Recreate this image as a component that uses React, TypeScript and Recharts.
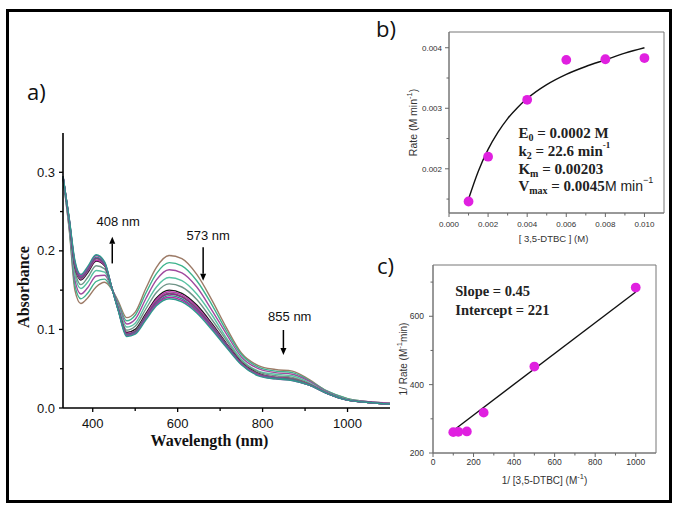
import React from 'react';
import {
  LineChart,
  Line,
  XAxis,
  YAxis,
  ZAxis,
  ReferenceLine,
  ReferenceDot,
  ReferenceArea,
  ComposedChart,
  Scatter,
  Label,
} from 'recharts';

// ---------------- Panel a: UV-Vis spectra ----------------
const wavelengths = [330, 345, 358, 372, 388, 408, 428, 445, 460, 480, 500, 525, 550, 580, 610, 645, 680, 715, 750, 790, 830, 870, 910, 950, 1000, 1050, 1100];
const absorbance01 = [0.292, 0.225, 0.150, 0.133, 0.140, 0.154, 0.160, 0.151, 0.136, 0.115, 0.122, 0.152, 0.179, 0.194, 0.190, 0.170, 0.138, 0.102, 0.070, 0.054, 0.049, 0.047, 0.036, 0.022, 0.012, 0.008, 0.006];
const absorbance02 = [0.292, 0.227, 0.156, 0.139, 0.146, 0.161, 0.164, 0.151, 0.134, 0.111, 0.118, 0.146, 0.171, 0.185, 0.181, 0.162, 0.132, 0.098, 0.068, 0.052, 0.047, 0.045, 0.035, 0.022, 0.012, 0.008, 0.006];
const absorbance03 = [0.293, 0.230, 0.163, 0.145, 0.153, 0.168, 0.169, 0.152, 0.132, 0.107, 0.113, 0.139, 0.163, 0.176, 0.172, 0.154, 0.125, 0.094, 0.065, 0.050, 0.045, 0.043, 0.034, 0.021, 0.011, 0.008, 0.006];
const absorbance04 = [0.294, 0.233, 0.169, 0.152, 0.160, 0.175, 0.173, 0.152, 0.130, 0.103, 0.108, 0.132, 0.154, 0.166, 0.162, 0.145, 0.119, 0.089, 0.062, 0.047, 0.043, 0.041, 0.032, 0.020, 0.011, 0.007, 0.005];
const absorbance05 = [0.294, 0.235, 0.175, 0.157, 0.166, 0.181, 0.177, 0.152, 0.128, 0.099, 0.104, 0.126, 0.147, 0.158, 0.154, 0.138, 0.113, 0.086, 0.060, 0.046, 0.041, 0.039, 0.031, 0.020, 0.011, 0.007, 0.005];
const absorbance06 = [0.294, 0.237, 0.180, 0.163, 0.172, 0.187, 0.181, 0.153, 0.126, 0.096, 0.100, 0.120, 0.140, 0.150, 0.146, 0.131, 0.108, 0.082, 0.058, 0.044, 0.039, 0.037, 0.030, 0.019, 0.010, 0.007, 0.005];
const absorbance07 = [0.295, 0.238, 0.182, 0.164, 0.174, 0.188, 0.182, 0.153, 0.126, 0.095, 0.098, 0.118, 0.138, 0.148, 0.144, 0.129, 0.106, 0.081, 0.057, 0.043, 0.039, 0.037, 0.030, 0.019, 0.010, 0.007, 0.005];
const absorbance08 = [0.295, 0.238, 0.183, 0.165, 0.175, 0.190, 0.183, 0.153, 0.126, 0.094, 0.098, 0.117, 0.136, 0.146, 0.142, 0.127, 0.105, 0.080, 0.057, 0.043, 0.038, 0.037, 0.030, 0.019, 0.010, 0.007, 0.005];
const absorbance09 = [0.295, 0.238, 0.184, 0.166, 0.176, 0.191, 0.183, 0.153, 0.125, 0.094, 0.097, 0.116, 0.135, 0.145, 0.141, 0.126, 0.104, 0.080, 0.057, 0.042, 0.038, 0.036, 0.029, 0.019, 0.010, 0.007, 0.005];
const absorbance10 = [0.295, 0.239, 0.185, 0.167, 0.177, 0.192, 0.184, 0.153, 0.125, 0.093, 0.096, 0.115, 0.133, 0.143, 0.139, 0.124, 0.103, 0.079, 0.056, 0.042, 0.038, 0.036, 0.029, 0.019, 0.010, 0.007, 0.005];
const absorbance11 = [0.295, 0.239, 0.186, 0.168, 0.178, 0.194, 0.185, 0.153, 0.125, 0.092, 0.095, 0.114, 0.132, 0.141, 0.137, 0.123, 0.102, 0.078, 0.056, 0.042, 0.037, 0.035, 0.029, 0.019, 0.010, 0.007, 0.005];
const absorbance12 = [0.295, 0.240, 0.188, 0.170, 0.180, 0.195, 0.186, 0.153, 0.124, 0.091, 0.094, 0.112, 0.130, 0.139, 0.135, 0.121, 0.100, 0.077, 0.055, 0.041, 0.037, 0.035, 0.029, 0.019, 0.010, 0.007, 0.005];
const spectra = [absorbance01, absorbance02, absorbance03, absorbance04, absorbance05, absorbance06, absorbance07, absorbance08, absorbance09, absorbance10, absorbance11, absorbance12];
const spectraColors = ['#9c7a66', '#3db38c', '#a04a9e', '#57c2a2', '#6f9488', '#1a1a1a', '#c030b0', '#707070', '#8a2a8a', '#2f8f84', '#b02aa8', '#2e9a8c'];

const aXMajor = [400, 600, 800, 1000];
const aXMinor = [500, 700, 900];
const aYMajor = [0, 0.1, 0.2, 0.3];
const aYMinor = [0.05, 0.15, 0.25];

const bandLabels = ['408 nm', '573 nm', '855 nm'];
const bandLabelPos = [
  { x: 460, y: 0.237 },
  { x: 672, y: 0.219 },
  { x: 864, y: 0.117 },
];
const bandArrows = [
  { x: 446, from: 0.184, to: 0.218 },
  { x: 660, from: 0.2045, to: 0.162 },
  { x: 849, from: 0.0993, to: 0.0675 },
];

// ---------------- Panel b: Michaelis–Menten ----------------
const bSubstrate = [0.001, 0.002, 0.004, 0.006, 0.008, 0.01];
const bRate = [0.00146, 0.0022, 0.00314, 0.0038, 0.00381, 0.00383];
const bFitSubstrate = [0.001, 0.0015, 0.002, 0.0025, 0.003, 0.0035, 0.004, 0.005, 0.006, 0.007, 0.008, 0.009, 0.01];
const bFitRate = [0.0015, 0.00196, 0.00232, 0.0026, 0.00283, 0.00301, 0.00316, 0.00339, 0.00356, 0.00369, 0.0038, 0.00391, 0.004];
const bXMajor = [0, 0.002, 0.004, 0.006, 0.008, 0.01];
const bXMinor = [0.001, 0.003, 0.005, 0.007, 0.009];
const bYMajor = [0.002, 0.003, 0.004];
const bYMinor = [0.0015, 0.0025, 0.0035];
const bXDomain = [0, 0.011];
const bYDomain = [0.00127, 0.00426];
const bTextX = 0.00355;
const bTextY = [0.00259, 0.00229, 0.002, 0.00171];

// ---------------- Panel c: Lineweaver–Burk ----------------
const cInvSubstrate = [100, 125, 167, 250, 500, 1000];
const cInvRate = [261, 262, 263, 318, 453, 684];
const cFitInvSubstrate = [100, 1000];
const cFitInvRate = [266, 671];
const cXMajor = [0, 200, 400, 600, 800, 1000];
const cXMinor = [100, 300, 500, 700, 900];
const cYMajor = [200, 400, 600];
const cYMinor = [300, 500, 700];
const cXDomain = [0, 1100];
const cYDomain = [200, 750];
const cTextX = 110;
const cTextY = [675, 619];

// ---------------- helpers ----------------
const SANS = '"Liberation Sans", Arial, Helvetica, sans-serif';
const SERIF = '"Liberation Serif", "Times New Roman", Times, serif';

const spectraTable = wavelengths.map((w, i) => {
  const row: Record<string, number> = { w };
  spectra.forEach((s, k) => {
    row['s' + k] = s[i];
  });
  return row;
});
const bPoints = bSubstrate.map((s, i) => ({ s, rate: bRate[i] }));
const bFit = bFitSubstrate.map((s, i) => ({ s, rate: bFitRate[i] }));
const cPoints = cInvSubstrate.map((inv, i) => ({ inv, invRate: cInvRate[i] }));
const cFit = cFitInvSubstrate.map((inv, i) => ({ inv, invRate: cFitInvRate[i] }));

type TickStyle = {
  majors: number[];
  major: number;
  minor: number;
  gap: number;
  fontSize: number;
  fill: string;
  stroke: string;
  strokeWidth: number;
  fmt: (v: number) => string;
};

const isIn = (list: number[], v: number) => list.some((m) => Math.abs(m - v) < 1e-9);

const bottomTick = (st: TickStyle) => (props: any) => {
  const { x, y, payload } = props;
  const v = payload.value as number;
  const major = isIn(st.majors, v);
  return (
    <g>
      <line x1={x} y1={y} x2={x} y2={y + (major ? st.major : st.minor)} stroke={st.stroke} strokeWidth={st.strokeWidth} />
      {major && (
        <text x={x} y={y + st.gap} dy="0.71em" textAnchor="middle" fontSize={st.fontSize} fontFamily={SANS} fill={st.fill}>
          {st.fmt(v)}
        </text>
      )}
    </g>
  );
};

const leftTick = (st: TickStyle) => (props: any) => {
  const { x, y, payload } = props;
  const v = payload.value as number;
  const major = isIn(st.majors, v);
  return (
    <g>
      <line x1={x} y1={y} x2={x - (major ? st.major : st.minor)} y2={y} stroke={st.stroke} strokeWidth={st.strokeWidth} />
      {major && (
        <text x={x - st.gap} y={y} dy="0.35em" textAnchor="end" fontSize={st.fontSize} fontFamily={SANS} fill={st.fill}>
          {st.fmt(v)}
        </text>
      )}
    </g>
  );
};

type TitleOpts = { dx: number; dy: number; angle?: number; fontSize: number; fontFamily: string; fontWeight?: number | string; fill: string };
const titleRenderer = (content: React.ReactNode, o: TitleOpts) => (props: any) => {
  const vb = props.viewBox || {};
  const cx = (vb.x ?? 0) + (vb.width ?? 0) / 2 + o.dx;
  const cy = (vb.y ?? 0) + (vb.height ?? 0) / 2 + o.dy;
  return (
    <text
      x={cx}
      y={cy}
      textAnchor="middle"
      dominantBaseline="central"
      transform={o.angle ? `rotate(${o.angle} ${cx} ${cy})` : undefined}
      fontSize={o.fontSize}
      fontFamily={o.fontFamily}
      fontWeight={o.fontWeight ?? 'normal'}
      fill={o.fill}
    >
      {content}
    </text>
  );
};

const arrowShape = (props: any) => {
  const { x1, y1, x2, y2 } = props;
  const ang = Math.atan2(y2 - y1, x2 - x1);
  const L = 7;
  const W = 3;
  const bx = x2 - L * Math.cos(ang);
  const by = y2 - L * Math.sin(ang);
  const px = -Math.sin(ang) * W;
  const py = Math.cos(ang) * W;
  return (
    <g>
      <line x1={x1} y1={y1} x2={bx} y2={by} stroke="#000" strokeWidth={1.5} />
      <polygon points={`${x2},${y2} ${bx + px},${by + py} ${bx - px},${by - py}`} fill="#000" />
    </g>
  );
};

const textShape = (content: React.ReactNode, o: { anchor: 'start' | 'middle'; fontSize: number; fontFamily: string; fontWeight?: number | string; fill?: string }) => (props: any) => (
  <text
    x={props.cx}
    y={props.cy}
    textAnchor={o.anchor}
    dominantBaseline="central"
    fontSize={o.fontSize}
    fontFamily={o.fontFamily}
    fontWeight={o.fontWeight ?? 'normal'}
    fill={o.fill ?? '#000'}
  >
    {content}
  </text>
);

const bTexts: React.ReactNode[] = [
  <>
    <tspan>E</tspan>
    <tspan dy={4} fontSize={10}>0</tspan>
    <tspan dy={-4}> = 0.0002 M</tspan>
  </>,
  <>
    <tspan>k</tspan>
    <tspan dy={4} fontSize={10}>2</tspan>
    <tspan dy={-4}> = 22.6 min</tspan>
    <tspan dy={-6} fontSize={9}>-1</tspan>
  </>,
  <>
    <tspan>K</tspan>
    <tspan dy={4} fontSize={10}>m</tspan>
    <tspan dy={-4}> = 0.00203</tspan>
  </>,
  <>
    <tspan>V</tspan>
    <tspan dy={4} fontSize={10}>max</tspan>
    <tspan dy={-4}> = 0.0045</tspan>
    <tspan fontFamily={SANS} fontWeight="normal" fontSize={14}>M min</tspan>
    <tspan dy={-6} fontSize={9} fontFamily={SANS} fontWeight="normal">−1</tspan>
  </>,
];
const cTexts = ['Slope = 0.45', 'Intercept = 221'];

const panelLabelStyle: React.CSSProperties = {
  position: 'absolute',
  fontFamily: '"Open Sans", "Noto Sans", sans-serif',
  fontSize: 22,
  lineHeight: '22px',
  color: '#111',
};

export default function App() {
  const aTickStyleX: TickStyle = { majors: aXMajor, major: 4, minor: 3, gap: 10.5, fontSize: 13, fill: '#111', stroke: '#000', strokeWidth: 1.3, fmt: (v) => String(v) };
  const aTickStyleY: TickStyle = { majors: aYMajor, major: 4, minor: 3, gap: 8, fontSize: 13, fill: '#111', stroke: '#000', strokeWidth: 1.3, fmt: (v) => v.toFixed(1) };
  const bTickStyleX: TickStyle = { majors: bXMajor, major: 4, minor: 2.5, gap: 8, fontSize: 8, fill: '#333', stroke: '#666', strokeWidth: 1, fmt: (v) => v.toFixed(3) };
  const bTickStyleY: TickStyle = { majors: bYMajor, major: 4, minor: 2.5, gap: 7, fontSize: 8, fill: '#333', stroke: '#666', strokeWidth: 1, fmt: (v) => v.toFixed(3) };
  const cTickStyleX: TickStyle = { majors: cXMajor, major: 4, minor: 2.5, gap: 6.4, fontSize: 8.5, fill: '#333', stroke: '#666', strokeWidth: 1, fmt: (v) => String(v) };
  const cTickStyleY: TickStyle = { majors: cYMajor, major: 4, minor: 2.5, gap: 9, fontSize: 8.5, fill: '#333', stroke: '#666', strokeWidth: 1, fmt: (v) => String(v) };

  return (
    <div style={{ position: 'absolute', left: 0, top: 0, width: 681, height: 512, background: '#fff', overflow: 'hidden' }}>
      <div style={{ position: 'absolute', left: 6, top: 9, width: 666, height: 494, border: '3px solid #000', boxSizing: 'border-box' }} />

      <div style={{ ...panelLabelStyle, left: 27, top: 80 }}>a)</div>
      <div style={{ ...panelLabelStyle, left: 376, top: 17 }}>b)</div>
      <div style={{ ...panelLabelStyle, left: 377, top: 254 }}>c)</div>

      {/* Panel a */}
      <div style={{ position: 'absolute', left: 0, top: 100 }}>
        <LineChart width={400} height={360} data={spectraTable} margin={{ top: 33, right: 10, left: 0, bottom: 0 }}>
          <XAxis
            dataKey="w"
            type="number"
            domain={[330, 1100]}
            ticks={[...aXMajor, ...aXMinor]}
            interval={0}
            tickSize={0}
            tickMargin={0}
            tickLine={false}
            axisLine={{ stroke: '#000', strokeWidth: 1.6 }}
            tick={bottomTick(aTickStyleX)}
            height={52}
          >
            <Label content={titleRenderer('Wavelength (nm)', { dx: -17, dy: 6, fontSize: 16, fontFamily: SERIF, fontWeight: 'bold', fill: '#111' })} />
          </XAxis>
          <YAxis
            type="number"
            domain={[0, 0.35]}
            ticks={[...aYMajor, ...aYMinor]}
            interval={0}
            tickSize={0}
            tickMargin={0}
            tickLine={false}
            axisLine={{ stroke: '#000', strokeWidth: 1.6 }}
            tick={leftTick(aTickStyleY)}
            width={63}
          >
            <Label content={titleRenderer('Absorbance', { dx: -8.5, dy: 16.5, angle: -90, fontSize: 16, fontFamily: SERIF, fontWeight: 'bold', fill: '#111' })} />
          </YAxis>
          {spectra.map((_, k) => (
            <Line
              key={k}
              type="monotone"
              dataKey={'s' + k}
              stroke={spectraColors[k]}
              strokeWidth={1.4}
              dot={false}
              isAnimationActive={false}
            />
          ))}
          {bandArrows.map((a, i) => (
            <ReferenceLine
              key={'ar' + i}
              segment={[
                { x: a.x, y: a.from },
                { x: a.x, y: a.to },
              ]}
              shape={arrowShape}
            />
          ))}
          {bandLabels.map((t, i) => (
            <ReferenceDot
              key={'bl' + i}
              x={bandLabelPos[i].x}
              y={bandLabelPos[i].y}
              r={1}
              shape={textShape(t, { anchor: 'middle', fontSize: 13, fontFamily: SANS, fill: '#111' })}
            />
          ))}
        </LineChart>
      </div>

      {/* Panel b */}
      <div style={{ position: 'absolute', left: 370, top: 0 }}>
        <ComposedChart width={311} height={250} margin={{ top: 32, right: 17, left: 0, bottom: 0 }}>
          <XAxis
            dataKey="s"
            type="number"
            domain={bXDomain}
            ticks={[...bXMajor, ...bXMinor]}
            interval={0}
            tickSize={0}
            tickMargin={0}
            tickLine={false}
            axisLine={{ stroke: '#777', strokeWidth: 1 }}
            tick={bottomTick(bTickStyleX)}
            height={37}
            allowDataOverflow
          >
            <Label content={titleRenderer('[ 3,5-DTBC ] (M)', { dx: -3, dy: 7, fontSize: 9.5, fontFamily: SANS, fill: '#333' })} />
          </XAxis>
          <YAxis
            dataKey="rate"
            type="number"
            domain={bYDomain}
            ticks={[...bYMajor, ...bYMinor]}
            interval={0}
            tickSize={0}
            tickMargin={0}
            tickLine={false}
            axisLine={{ stroke: '#777', strokeWidth: 1 }}
            tick={leftTick(bTickStyleY)}
            width={79}
            allowDataOverflow
          >
            <Label
              content={titleRenderer(
                <>
                  <tspan>Rate (M min</tspan>
                  <tspan dy={-4} fontSize={7.5}>-1</tspan>
                  <tspan dy={4}>)</tspan>
                </>,
                { dx: 3.5, dy: 0, angle: -90, fontSize: 10.5, fontFamily: SANS, fill: '#333' }
              )}
            />
          </YAxis>
          <ZAxis type="number" range={[75, 75]} />
          <ReferenceArea x1={bXDomain[0]} x2={bXDomain[1]} y1={bYDomain[0]} y2={bYDomain[1]} fill="none" stroke="#777" strokeWidth={1} ifOverflow="visible" />
          <Line data={bFit} dataKey="rate" type="monotone" stroke="#111" strokeWidth={1.4} dot={false} isAnimationActive={false} />
          <Scatter data={bPoints} dataKey="rate" fill="#e020e0" isAnimationActive={false} />
          {bTexts.map((t, i) => (
            <ReferenceDot
              key={'bt' + i}
              x={bTextX}
              y={bTextY[i]}
              r={1}
              shape={textShape(t, { anchor: 'start', fontSize: 15, fontFamily: SERIF, fontWeight: 'bold', fill: '#222' })}
            />
          ))}
        </ComposedChart>
      </div>

      {/* Panel c */}
      <div style={{ position: 'absolute', left: 370, top: 250 }}>
        <ComposedChart width={311} height={262} margin={{ top: 15, right: 25, left: 0, bottom: 0 }}>
          <XAxis
            dataKey="inv"
            type="number"
            domain={cXDomain}
            ticks={[...cXMajor, ...cXMinor]}
            interval={0}
            tickSize={0}
            tickMargin={0}
            tickLine={false}
            axisLine={{ stroke: '#777', strokeWidth: 1 }}
            tick={bottomTick(cTickStyleX)}
            height={59}
            allowDataOverflow
          >
            <Label
              content={titleRenderer(
                <>
                  <tspan>1/ [3,5-DTBC] (M</tspan>
                  <tspan dy={-4} fontSize={7.5}>-1</tspan>
                  <tspan dy={4}>)</tspan>
                </>,
                { dx: 0, dy: -2.5, fontSize: 10, fontFamily: SANS, fill: '#333' }
              )}
            />
          </XAxis>
          <YAxis
            dataKey="invRate"
            type="number"
            domain={cYDomain}
            ticks={[...cYMajor, ...cYMinor]}
            interval={0}
            tickSize={0}
            tickMargin={0}
            tickLine={false}
            axisLine={{ stroke: '#777', strokeWidth: 1 }}
            tick={leftTick(cTickStyleY)}
            width={63}
            allowDataOverflow
          >
            <Label
              content={titleRenderer(
                <>
                  <tspan>1/ Rate (M</tspan>
                  <tspan dy={-4} fontSize={7.5}>-1</tspan>
                  <tspan dy={4}>min)</tspan>
                </>,
                { dx: 1.5, dy: 0, angle: -90, fontSize: 10, fontFamily: SANS, fill: '#333' }
              )}
            />
          </YAxis>
          <ZAxis type="number" range={[75, 75]} />
          <ReferenceArea x1={cXDomain[0]} x2={cXDomain[1]} y1={cYDomain[0]} y2={cYDomain[1]} fill="none" stroke="#777" strokeWidth={1} ifOverflow="visible" />
          <Line data={cFit} dataKey="invRate" type="linear" stroke="#111" strokeWidth={1.4} dot={false} isAnimationActive={false} />
          <Scatter data={cPoints} dataKey="invRate" fill="#e020e0" isAnimationActive={false} />
          {cTexts.map((t, i) => (
            <ReferenceDot
              key={'ct' + i}
              x={cTextX}
              y={cTextY[i]}
              r={1}
              shape={textShape(t, { anchor: 'start', fontSize: 14.5, fontFamily: SERIF, fontWeight: 'bold', fill: '#222' })}
            />
          ))}
        </ComposedChart>
      </div>
    </div>
  );
}
